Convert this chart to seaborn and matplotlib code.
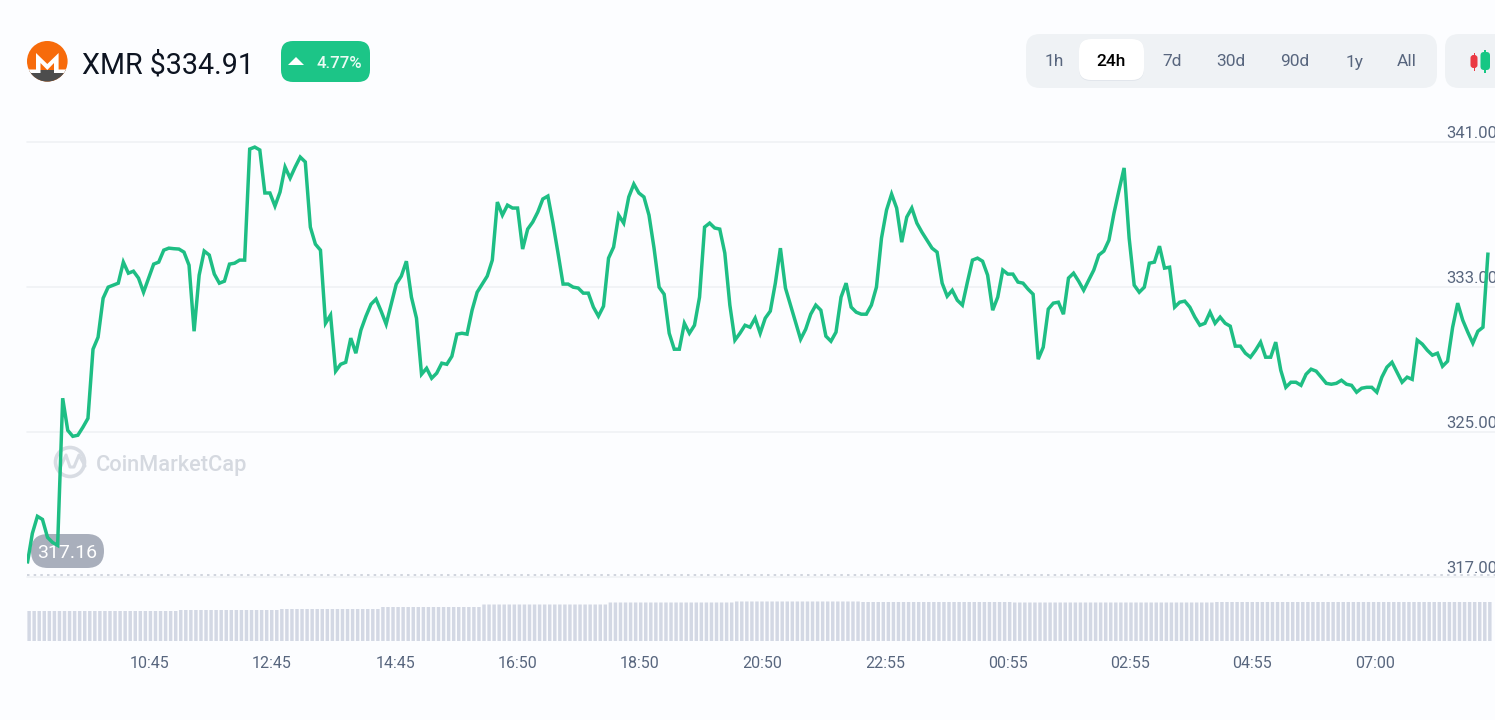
import numpy as np
import seaborn as sns
import matplotlib
matplotlib.use("Agg")
import matplotlib.pyplot as plt
from matplotlib.patches import FancyBboxPatch, Circle, Polygon, Rectangle
from matplotlib.transforms import ScaledTranslation

# XMR/USD price sampled every five minutes over one day
prices = [
    317.77, 319.43, 320.37, 320.20, 319.21, 318.93, 318.77, 326.88, 325.11, 324.78,
    324.84, 325.28, 325.77, 329.58, 330.24, 332.39, 333.00, 333.11, 333.22, 334.38,
    333.77, 333.88, 333.50, 332.72, 333.50, 334.27, 334.38, 335.04, 335.15, 335.12,
    335.10, 334.93, 334.21, 330.57, 333.66, 334.99, 334.77, 333.72, 333.22, 333.33,
    334.27, 334.32, 334.49, 334.49, 340.61, 340.72, 340.56, 338.19, 338.19, 337.47,
    338.24, 339.62, 339.01, 339.62, 340.17, 339.90, 336.31, 335.37, 335.04, 331.01,
    331.46, 328.37, 328.75, 328.86, 330.19, 329.36, 330.63, 331.40, 332.06, 332.34,
    331.68, 330.96, 332.06, 333.17, 333.61, 334.43, 332.45, 331.29, 328.20, 328.53,
    327.98, 328.26, 328.81, 328.75, 329.19, 330.41, 330.46, 330.41, 331.73, 332.72,
    333.17, 333.61, 334.49, 337.69, 336.97, 337.52, 337.36, 337.36, 335.10, 336.20,
    336.59, 337.14, 337.86, 338.02, 336.53, 334.88, 333.17, 333.17, 333.00, 332.95,
    332.67, 332.67, 331.90, 331.40, 331.95, 334.60, 335.21, 336.97, 336.53, 337.97,
    338.68, 338.19, 337.97, 336.97, 335.15, 333.00, 332.61, 330.46, 329.58, 329.58,
    331.01, 330.46, 330.90, 332.45, 336.31, 336.53, 336.26, 336.20, 334.88, 332.01,
    330.08, 330.46, 330.90, 330.79, 331.29, 330.46, 331.29, 331.68, 333.22, 335.15,
    332.95, 332.01, 331.07, 330.13, 330.68, 331.51, 332.01, 331.73, 330.30, 330.02,
    330.52, 332.45, 333.22, 331.90, 331.62, 331.51, 331.51, 332.01, 333.00, 335.70,
    337.25, 338.13, 337.36, 335.48, 336.86, 337.36, 336.53, 336.03, 335.59, 335.15,
    334.93, 333.22, 332.50, 332.83, 332.28, 332.01, 333.28, 334.49, 334.60, 334.43,
    333.66, 331.73, 332.45, 333.94, 333.72, 333.72, 333.28, 333.22, 332.89, 332.61,
    329.03, 329.69, 331.79, 332.12, 332.17, 331.51, 333.50, 333.77, 333.33, 332.83,
    333.39, 333.94, 334.77, 334.99, 335.59, 337.08, 338.35, 339.57, 335.70, 333.11,
    332.72, 333.00, 334.32, 334.38, 335.26, 334.05, 334.10, 331.90, 332.17, 332.23,
    331.90, 331.35, 330.90, 331.01, 331.62, 331.01, 331.35, 331.01, 330.85, 329.75,
    329.75, 329.36, 329.14, 329.52, 329.97, 329.14, 329.14, 329.97, 328.42, 327.48,
    327.76, 327.76, 327.59, 328.20, 328.48, 328.37, 328.04, 327.70, 327.65, 327.70,
    327.87, 327.65, 327.59, 327.21, 327.43, 327.48, 327.48, 327.21, 328.04, 328.59,
    328.86, 328.31, 327.76, 328.04, 327.92, 330.08, 329.86, 329.52, 329.25, 329.36,
    328.64, 328.92, 330.79, 332.12, 331.18, 330.52, 329.91, 330.57, 330.79, 334.91,
]

# Traded volume, relative units, held as runs of equal-height bars
volume_run_lengths = [30, 20, 20, 20, 25, 25, 25, 30, 40, 30, 25]
volume_run_levels = [30.0, 31.0, 32.0, 34.0, 36.5, 38.5, 39.5, 39.0, 38.5, 39.0, 39.0]

price_ticks = [341, 333, 325, 317]
price_tick_labels = ["341.00", "333.00", "325.00", "317.00"]
time_tick_minutes = [121, 242, 364, 485, 606, 727, 849, 970, 1091, 1212, 1333]
time_tick_labels = ["10:45", "12:45", "14:45", "16:50", "18:50", "20:50",
                    "22:55", "00:55", "02:55", "04:55", "07:00"]
range_labels = ["1h", "24h", "7d", "30d", "90d", "1y", "All"]
range_centers = [1054, 1111, 1172, 1231, 1295, 1355, 1407]
open_price = 317.16

W, H = 1495, 720
BG = "#FCFDFF"
GREEN = "#1EBE84"
GRID = "#EFF2F5"
MUTED = "#58667E"

sns.set_theme(style="white")
plt.rcParams["font.family"] = ["Roboto", "DejaVu Sans"]

fig = plt.figure(figsize=(W / 100, H / 100), dpi=100, facecolor=BG)


def px_axes(left, top, right, bottom, **kw):
    return fig.add_axes([left / W, 1 - bottom / H, (right - left) / W, (bottom - top) / H], **kw)


# Page furniture lives on a full-size layer measured in pixels
ui = fig.add_axes([0, 0, 1, 1], zorder=0)
ui.set_xlim(0, W)
ui.set_ylim(H, 0)
ui.axis("off")


def pill(x0, y0, x1, y1, radius, **kw):
    p = FancyBboxPatch((x0 + radius, y0 + radius), x1 - x0 - 2 * radius, y1 - y0 - 2 * radius,
                       boxstyle=f"round,pad={radius},rounding_size={radius}", lw=0, **kw)
    ui.add_patch(p)
    return p


# Monero logo
disc = Circle((47.3, 61.3), 20.3, fc="#F76B0B", ec="none")
ui.add_patch(disc)
lower = Rectangle((20, 70), 55, 15, fc="#4D4D4D", ec="none")
ui.add_patch(lower)
lower.set_clip_path(disc)
mark = Polygon([(27, 69.5), (36, 69.5), (36, 53), (47.3, 64), (58.6, 53), (58.6, 69.5), (68, 69.5),
                (66, 73), (54, 73), (54, 63), (47.3, 70), (40.5, 63), (40.5, 73), (29, 73)],
               closed=True, fc="white", ec="none")
ui.add_patch(mark)
mark.set_clip_path(disc)

ui.text(82, 65, "XMR $334.91", fontsize=20.6, color="#0D1421", va="center", ha="left")

# Daily change badge
pill(281, 41, 370, 82, 12, fc="#1CC587")
ui.add_patch(Polygon([(288, 65), (296, 57), (304, 65)], closed=True, fc="white", ec="none"))
ui.text(339, 63.5, "4.77%", fontsize=12, color="#EAFBF4", va="center", ha="center", fontweight="medium")

# Range selector and chart-type button
pill(1026, 34, 1437, 88, 14, fc="#EFF2F5")
pill(1079, 39, 1144, 81, 12, fc="#E2E6EC")
pill(1079, 39, 1144, 80, 12, fc="white")
for label, cx in zip(range_labels, range_centers):
    active = label == "24h"
    ui.text(cx, 62, label, fontsize=12.5, ha="center", va="center",
            color="black" if active else MUTED, fontweight="medium" if active else "normal")
pill(1445, 34, 1530, 88, 14, fc="#EFF2F5")
ui.add_patch(Rectangle((1473.5, 53), 1.5, 18, fc="#EA3943", ec="none"))
pill(1470.5, 55, 1477.5, 68, 3, fc="#EA3943")
ui.add_patch(Rectangle((1484, 50), 1.5, 23, fc="#16C784", ec="none"))
pill(1480.5, 52, 1490, 70, 3.5, fc="#16C784")

# Watermark
ui.add_patch(Circle((70, 462), 14.5, fc="none", ec="#D8DCE3", lw=2.6))
ui.plot([60, 66, 70, 74, 79, 85], [468, 455, 467, 467, 455, 466], color="#D8DCE3", lw=2.2)
ui.text(96, 465, "CoinMarketCap", fontsize=15.7, color="#D5D9E0", va="center", ha="left", fontweight="medium")

# Opening price tag
pill(31, 534, 104, 568, 17, fc="#A9AFBC")
ui.text(67, 552.5, f"{open_price:.2f}", fontsize=14, color="white", va="center", ha="center")

# Price panel; the axis runs a little below its lowest tick so that gridline stays whole
minutes = 5 * np.arange(len(prices))
price_floor = 316.31
ax = px_axes(27.3, 142, W, 590, zorder=2)
ax.patch.set_alpha(0)
ax.axhline(open_price, color="#C9CED8", lw=1.2, ls=(0, (1.5, 2.5)), zorder=1)
sns.lineplot(x=minutes, y=prices, color=GREEN, linewidth=2.5, ax=ax, zorder=3,
             solid_joinstyle="miter", solid_capstyle="butt")
ax.set_xlim(0, (W - 27.3) / 1.01087)
ax.set_ylim(price_floor, 341)
sns.despine(ax=ax, left=True, bottom=True)
ax.set_xticks([])
ax.set_yticks(price_ticks, price_tick_labels)
ax.yaxis.tick_right()
ax.tick_params(axis="y", length=0, pad=-35.3, labelsize=12, labelcolor=MUTED)
ax.grid(axis="y", color=GRID, lw=1.2)
ax.set_axisbelow(True)
ax.set_xlabel("")
ax.set_ylabel("")
lift = ScaledTranslation(0, 1.0 / 72, fig.dpi_scale_trans)
for tick in ax.yaxis.get_major_ticks():
    tick.label2.set_va("bottom")
    tick.label2.set_ha("left")
    tick.label2.set_transform(tick.label2.get_transform() + lift)
    tick.gridline.set_clip_on(False)

# Volume panel sharing the time axis
volume = np.repeat(volume_run_levels, volume_run_lengths)
vol_minutes = minutes[:len(volume)] + 1.8
axv = px_axes(27.3, 600, W, 641, zorder=1)
axv.patch.set_alpha(0)
sns.barplot(x=vol_minutes, y=volume, native_scale=True, width=0.68, color="#D3D8E4",
            saturation=1, ax=axv)
for bar in axv.patches:
    bar.set_snap(False)
    bar.set_linewidth(0)
axv.set_xlim(0, (W - 27.3) / 1.01087)
axv.set_ylim(0, 41)
sns.despine(ax=axv, left=True, bottom=True)
axv.set_yticks([])
axv.set_xticks(time_tick_minutes, time_tick_labels)
axv.tick_params(axis="x", length=0, pad=10.8, labelsize=11.5, labelcolor=MUTED)
axv.set_xlabel("")
axv.set_ylabel("")

fig.savefig("out.png", dpi=100, facecolor=BG)
